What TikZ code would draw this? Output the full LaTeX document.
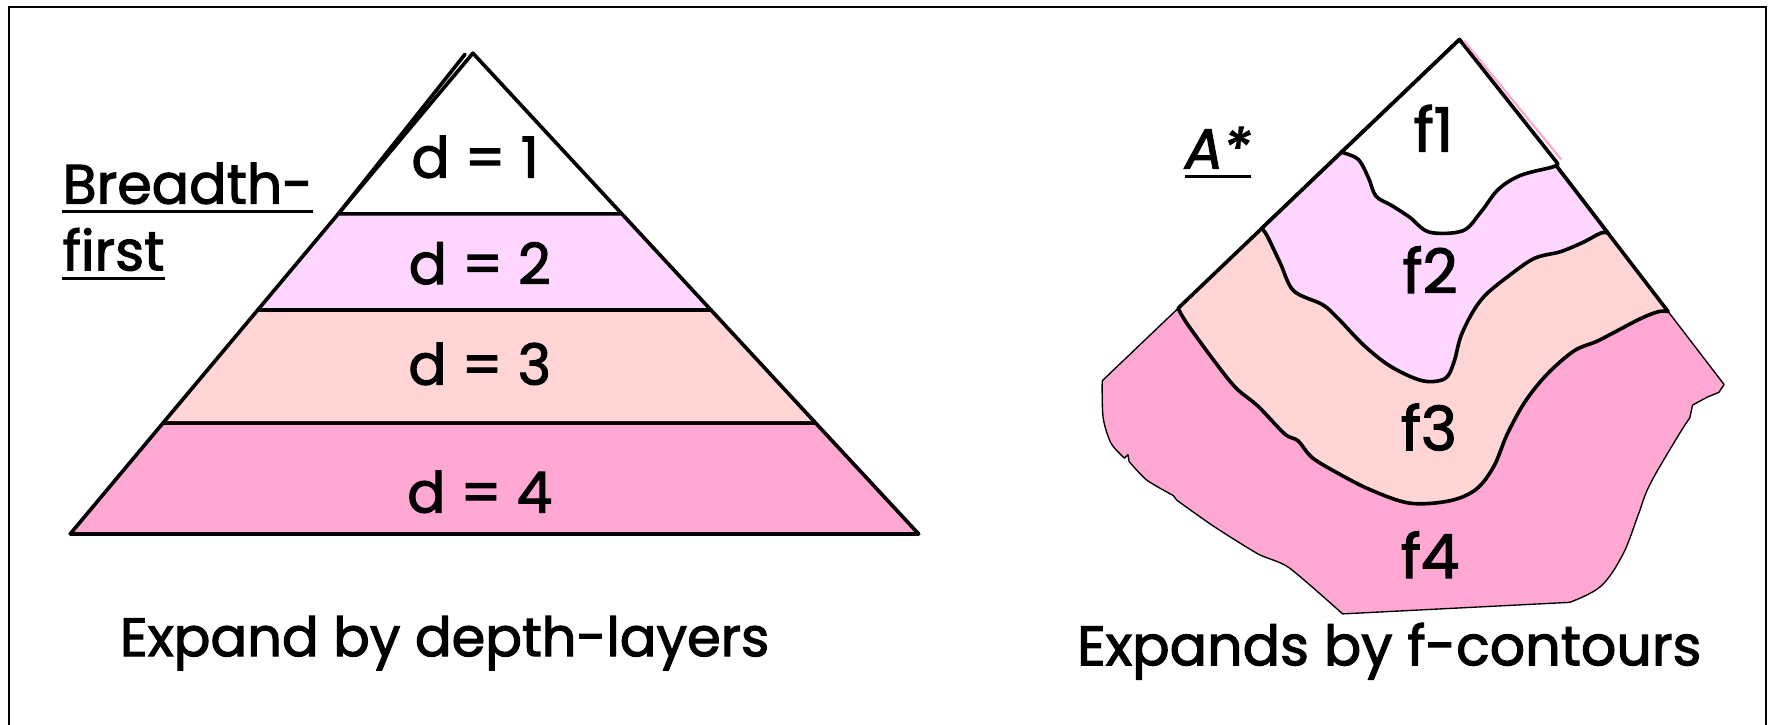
\documentclass[tikz,border=0pt]{standalone}
\usepackage{fontspec}
\setmainfont{Poppins}
\newfontfamily\cfont{Poppins}[FakeBold=2]
\definecolor{layB}{RGB}{255,214,255}
\definecolor{layC}{RGB}{255,213,213}
\definecolor{layD}{RGB}{255,168,212}
\tikzset{
  thk/.style={line width=1.6pt, line join=round, line cap=round},
  thn/.style={line width=0.6pt, line join=round},
  dlab/.style={font=\cfont\fontsize{25}{28}\selectfont, inner sep=0pt, anchor=base},
  flab/.style={font=\cfont\fontsize{27}{30}\selectfont, inner sep=0pt, anchor=base},
  ttl/.style={font=\cfont\fontsize{24.5}{28}\selectfont, inner sep=0pt, anchor=base west},
  captxt/.style={font=\cfont\fontsize{24.5}{28}\selectfont, inner sep=0pt, anchor=base},
  uline/.style={line width=1.3pt},
}
\begin{document}
\begin{tikzpicture}[x=0.5pt,y=-0.5pt]
\useasboundingbox (0,0) rectangle (1568,640);
% frame
\draw[line width=0.8pt] (8,6) rectangle (1561,660);

% ---------- left pyramid ----------
\coordinate (top) at (418,47);
\coordinate (a1) at (299,189);   \coordinate (b1) at (549.6,189);
\coordinate (a2) at (227.8,274); \coordinate (b2) at (628.4,274);
\coordinate (a3) at (144,374);   \coordinate (b3) at (721,374);
\coordinate (a4) at (62,472);    \coordinate (b4) at (812,472);
\filldraw[thk, fill=white] (top) -- (a1) -- (b1) -- cycle;
\filldraw[thk, fill=layB] (a1) -- (a2) -- (b2) -- (b1) -- cycle;
\filldraw[thk, fill=layC] (a2) -- (a3) -- (b3) -- (b2) -- cycle;
\filldraw[thk, fill=layD] (a3) -- (a4) -- (b4) -- (b3) -- cycle;
\draw[thk] (411,48) -- (a1);

\node[dlab] (d1) at (420,157) {d = 1};
\node[dlab] (d2) at (424,251) {d = 2};
\node[dlab] (d3) at (424,340) {d = 3};
\node[dlab] (d4) at (424,453) {d = 4};

\node[ttl] (bf1) at (55,180) {Breadth-};
\node[ttl] (bf2) at (55,239) {first};
\draw[uline] ([yshift=-3.5pt]bf1.base west) -- ([yshift=-3.5pt]bf1.base east);
\draw[uline] ([yshift=-3.5pt]bf2.base west) -- ([yshift=-3.5pt]bf2.base east);

\node[captxt, font=\cfont\fontsize{24}{28}\selectfont] (ex1) at (393,580) {Expand by depth-layers};

% ---------- right contour figure ----------
\coordinate (ap) at (1290,35);
\coordinate (L1) at (1185.7,134.6);
\coordinate (L2) at (1115.1,202);
\coordinate (L3) at (1041.3,272.5);
\coordinate (L4) at (974.2,336.6);
\coordinate (R1) at (1377,144.8);
\coordinate (R2) at (1421.2,206);
\coordinate (R3) at (1474.4,275.4);
\coordinate (R4) at (1523.9,339.9);

% outer f4 region
\filldraw[thn, fill=layD] (ap) -- (L4)
  -- plot[smooth, tension=0.5] coordinates {(974.2,336.6) (975,369) (982,391.7) (993.9,405)}
  -- (997,401.9) -- (998,408)
  -- plot[smooth, tension=0.4] coordinates {(998,408) (1013.5,424.3) (1037,438)}
  -- (1040,442)
  -- plot[smooth, tension=0.4] coordinates {(1040,442) (1072.6,465.1) (1111.9,489.6) (1139.4,501.8) (1186.7,542.6)}
  -- (1387.4,532.4)
  -- plot[smooth, tension=0.6] coordinates {(1387.4,532.4) (1414.9,518.2) (1434.6,489.6) (1448,455) (1458.2,428.4) (1481.8,387.6) (1493.6,369.2)}
  -- (1496,358) -- (1509.3,350.9) -- (1519.2,346.8) -- (R4) -- cycle;

% f3 region
\filldraw[thk, fill=layC] (ap) -- (L3)
  -- plot[smooth, tension=0.55] coordinates {(1041.3,272.5) (1048.9,285.6) (1072.6,318.2) (1092.2,342.7) (1111.9,359) (1135.5,383.5) (1147.3,389.6) (1159.1,403.9) (1178.8,416.2) (1210.3,432.5) (1245.7,444.7) (1281.1,442.7) (1304.7,432.5) (1320.4,412.1) (1332.3,383.5) (1348,355) (1367.7,330.5) (1391.3,310.1) (1411,301.9) (1426.7,293.8) (1450.3,281.5) (1466.1,275.4) (1474.4,275.4)}
  -- cycle;

% f2 region
\filldraw[thk, fill=layB] (ap) -- (L2)
  -- plot[smooth, tension=0.55] coordinates {(1115.1,202) (1119.8,208.1) (1131.6,232.6) (1143.4,257) (1169,269.3) (1182.7,281.5) (1206.3,306) (1230,324.4) (1257.5,336.6) (1277.2,334.6) (1285,320.3) (1291,297.8) (1300.8,277.4) (1312.6,261.1) (1332.3,244.8) (1355.9,228.5) (1379.5,222.4) (1399.2,214.2) (1414.9,206) (1421.2,206)}
  -- cycle;

% f1 region
\filldraw[thk, fill=white] (ap) -- (L1)
  -- plot[smooth, tension=0.55] coordinates {(1185.7,134.6) (1200.4,140.8) (1209.5,157.1) (1216.2,173.4) (1230,181.6) (1245.7,191.8) (1263.4,205.2) (1292.9,204) (1308.7,187.7) (1324.4,167.3) (1344,155) (1372,147.7) (1377,144.8)}
  -- cycle;

% pink sliver along right edge near apex
\draw[layD, line width=1pt] (1294,36) -- (1380,141);

\node[flab] (f1) at (1267,134) {f1};
\node[flab] (f2) at (1264,259) {f2};
\node[flab] (f3) at (1263,398) {f3};
\node[flab] (f4) at (1264,511) {f4};

\node[ttl, font=\cfont\fontsize{25}{28}\selectfont\itshape] (as) at (1047,149) {A*};
\draw[uline] ([yshift=-3.5pt]as.base west) -- ([yshift=-3.5pt]as.base east);

\node[captxt] (ex2) at (1228,588) {Expands by f-contours};
\end{tikzpicture}
\end{document}
